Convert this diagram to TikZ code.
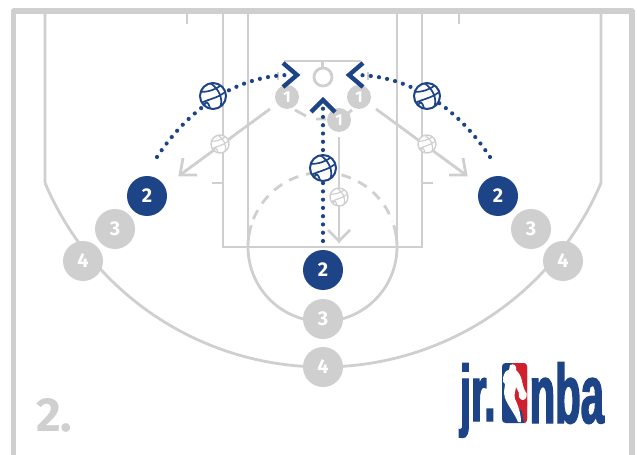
\documentclass[tikz,border=0pt]{standalone}
\usepackage{fontspec}
\setmainfont{Liberation Sans}
\newfontfamily\numfont{Fira Sans}
\newfontfamily\logofont{Liberation Sans}[BoldFeatures={FakeStretch=0.5,FakeBold=1.6}]
\definecolor{courtgrey}{HTML}{CFCFCF}
\definecolor{navy}{HTML}{1C4486}
\definecolor{nbared}{HTML}{D0202E}
\newcommand{\ballseams}[2]{%
  \draw[#2,line width=#1*1.7pt,shift={(path picture bounding box.center)},x=#1*1bp,y=-#1*1bp]
    (-12,-4) .. controls (-6,-4) and (3,-6) .. (8,-11)
    (-12,7) .. controls (-4,3) and (5,2) .. (12,-4)
    (-3,-13) .. controls (5,-8) and (11,2) .. (7,12)
    (-9,9) .. controls (-6,5) and (-5,6) .. (-3,12);}
\tikzset{
  courtline/.style={draw=courtgrey,line width=2.8pt,line cap=butt},
  boundary/.style={draw=courtgrey,line width=5.2pt,line join=round},
  cutline/.style={draw=courtgrey,line width=2.8pt},
  cuthead/.style={draw=courtgrey,line width=2.8pt,line join=miter},
  playerdot/.style={circle,minimum size=40bp,inner sep=0pt,font=\numfont\bfseries\fontsize{20}{20}\selectfont,text=white},
  navyplayer/.style={playerdot,fill=navy},
  greyplayer/.style={playerdot,fill=courtgrey},
  firstplayer/.style={circle,minimum size=24bp,inner sep=0pt,fill=courtgrey,font=\numfont\bfseries\fontsize{16}{16}\selectfont,text=white},
  bigball/.style={circle,minimum size=26bp,inner sep=0pt,draw=navy,line width=2pt,fill=white,path picture={\ballseams{1}{navy}}},
  smallball/.style={circle,minimum size=18bp,inner sep=0pt,draw=courtgrey,line width=1.4pt,fill=white,path picture={\ballseams{0.68}{courtgrey}}},
  passline/.style={draw=navy,line width=4.2pt,line cap=round,dash pattern=on 0pt off 8.3pt},
  chevron/.style={draw=navy,line width=4.4pt,line join=miter},
  lognum/.style={inner sep=0pt,outer sep=0pt,text=navy,font=\logofont\bfseries\fontsize{84}{84}\selectfont}
}
\begin{document}
\begin{tikzpicture}[x=1bp,y=-1bp]
\useasboundingbox (0,0) rectangle (637,455);
\fill[white] (0,0) rectangle (637,455);
% court
\draw[boundary] (13.5,455) -- (13.5,11) -- (632,11) -- (632,455);
\draw[courtline] (45,13) -- (45,183)
  plot[domain=157:23,samples=90] ({323+302*cos(\x)},{65+302*sin(\x)})
  -- (601,13);
\draw[courtline] (187,13) -- (187,24) (459,13) -- (459,24);
\draw[courtline] (223,13) -- (223,247) -- (422,247) -- (422,13);
\draw[courtline] (248,13) -- (248,247) (397,13) -- (397,247);
\draw[courtline] (212,183) -- (223,183) (422,183) -- (433,183);
\draw[courtline] plot[domain=0:180,samples=50] ({322.5+74.5*cos(\x)},{247+74.5*sin(\x)});
\draw[courtline] plot[domain=180:197,samples=6] ({322.5+74.5*cos(\x)},{247+74.5*sin(\x)});
\draw[courtline] plot[domain=343:360,samples=6] ({322.5+74.5*cos(\x)},{247+74.5*sin(\x)});
\draw[courtline,dash pattern=on 10pt off 8pt] plot[domain=202:340,samples=50] ({322.5+74.5*cos(\x)},{247+74.5*sin(\x)});
\draw[courtline] (284,61) -- (361,61) (322.5,61) -- (322.5,67);
\draw[courtline] (278,72) -- (278,80) (368,72) -- (368,80);
\node[circle,draw=courtgrey,line width=2.8pt,minimum size=18bp,inner sep=0pt] (hoop) at (323,77) {};
% screen dashes
\draw[courtline] (295,110) -- (306,116) (316,119) -- (326,119) (346,115) -- (352,110);
% players
\node[firstplayer] (fa) at (287,97) {1};
\node[firstplayer] (fb) at (359,97) {1};
\node[firstplayer] (fc) at (339,120) {1};
\coordinate (la) at (180,175);
\coordinate (lb) at (466,175);
\coordinate (lc) at (339,243);
\coordinate (lsa) at (270,109);
\coordinate (lsb) at (376,109);
\coordinate (lsc) at (339,137);
\draw[cutline] (lsa) -- (la);
\draw[cutline] (lsb) -- (lb);
\draw[cutline] (lsc) -- (lc);
\draw[cuthead] (183,158) -- (180,175) -- (197,175);
\draw[cuthead] (463,158) -- (466,175) -- (449,175);
\draw[cuthead] (328,230) -- (339,241) -- (350,230);
\node[smallball] (sa) at (220,144) {};
\node[smallball] (sb) at (427,144) {};
\node[smallball] (sc) at (339,197) {};
% passes
\coordinate (pa0) at (157,157);
\coordinate (pa1) at (289,75);
\coordinate (pb0) at (490,157);
\coordinate (pb1) at (357,75);
\coordinate (pc0) at (323,241);
\coordinate (pc1) at (323,103);
\draw[passline] (pa0) .. controls (192,104) and (240,76) .. (pa1);
\draw[passline] (pb0) .. controls (455,104) and (407,76) .. (pb1);
\draw[passline] (pc0) -- (pc1);
\draw[chevron] (283,63) -- (297,75) -- (283,87);
\draw[chevron] (363,63) -- (349,75) -- (363,87);
\draw[chevron] (311,112) -- (323,100) -- (335,112);
\node[bigball] (ba) at (213,96) {};
\node[bigball] (bb) at (427,96) {};
\node[bigball] (bc) at (323,168) {};
\node[greyplayer] (ga3) at (115,229) {3};
\node[greyplayer] (gb3) at (531,229) {3};
\node[greyplayer] (gc3) at (323,319) {3};
\node[greyplayer] (ga4) at (83,261) {4};
\node[greyplayer] (gb4) at (563,261) {4};
\node[greyplayer] (gc4) at (323,367) {4};
\node[navyplayer] (na) at (147,196) {2};
\node[navyplayer] (nb) at (498,196) {2};
\node[navyplayer] (nc) at (323,270) {2};
% step label
\node[anchor=base west,inner sep=0pt,text=courtgrey,font=\numfont\bfseries\fontsize{48}{48}\selectfont] (steplabel) at (36,431) {2.};
% logo
\node[lognum,anchor=base west,font=\logofont\bfseries\fontsize{80}{80}\selectfont] (logojr) at (460,421) {jr.};
\node[lognum,anchor=base east] (logonba) at (604,423) {nba};
\fill[navy,rounded corners=3.5bp] (502,363) rectangle (527,423);
\fill[nbared,rounded corners=3.5bp] (512,363) rectangle (527,410);
\fill[nbared] (512,363) rectangle (518,410);
\fill[nbared] (520,400) -- (527,400) -- (527,419) [rounded corners=2bp] -- (526,423) -- (524,423) -- cycle;
\fill[white] (510,365) .. controls (514,363) and (517,366) .. (516,370)
  .. controls (519,373) and (521,376) .. (522,381)
  .. controls (523,386) and (524,389) .. (525,391)
  .. controls (528,393) and (527,400) .. (523,400)
  .. controls (520,400) and (518,397) .. (519,393)
  .. controls (518,391) and (517,389) .. (516,387)
  .. controls (515,392) and (514,396) .. (515,399)
  .. controls (518,405) and (521,414) .. (521,422)
  -- (518,422)
  .. controls (515,414) and (508,406) .. (505,398)
  .. controls (503,392) and (505,387) .. (505,384)
  .. controls (503,383) and (502.5,381) .. (503,378)
  .. controls (504,373) and (506,370) .. (509,370)
  -- cycle;
\end{tikzpicture}
\end{document}
